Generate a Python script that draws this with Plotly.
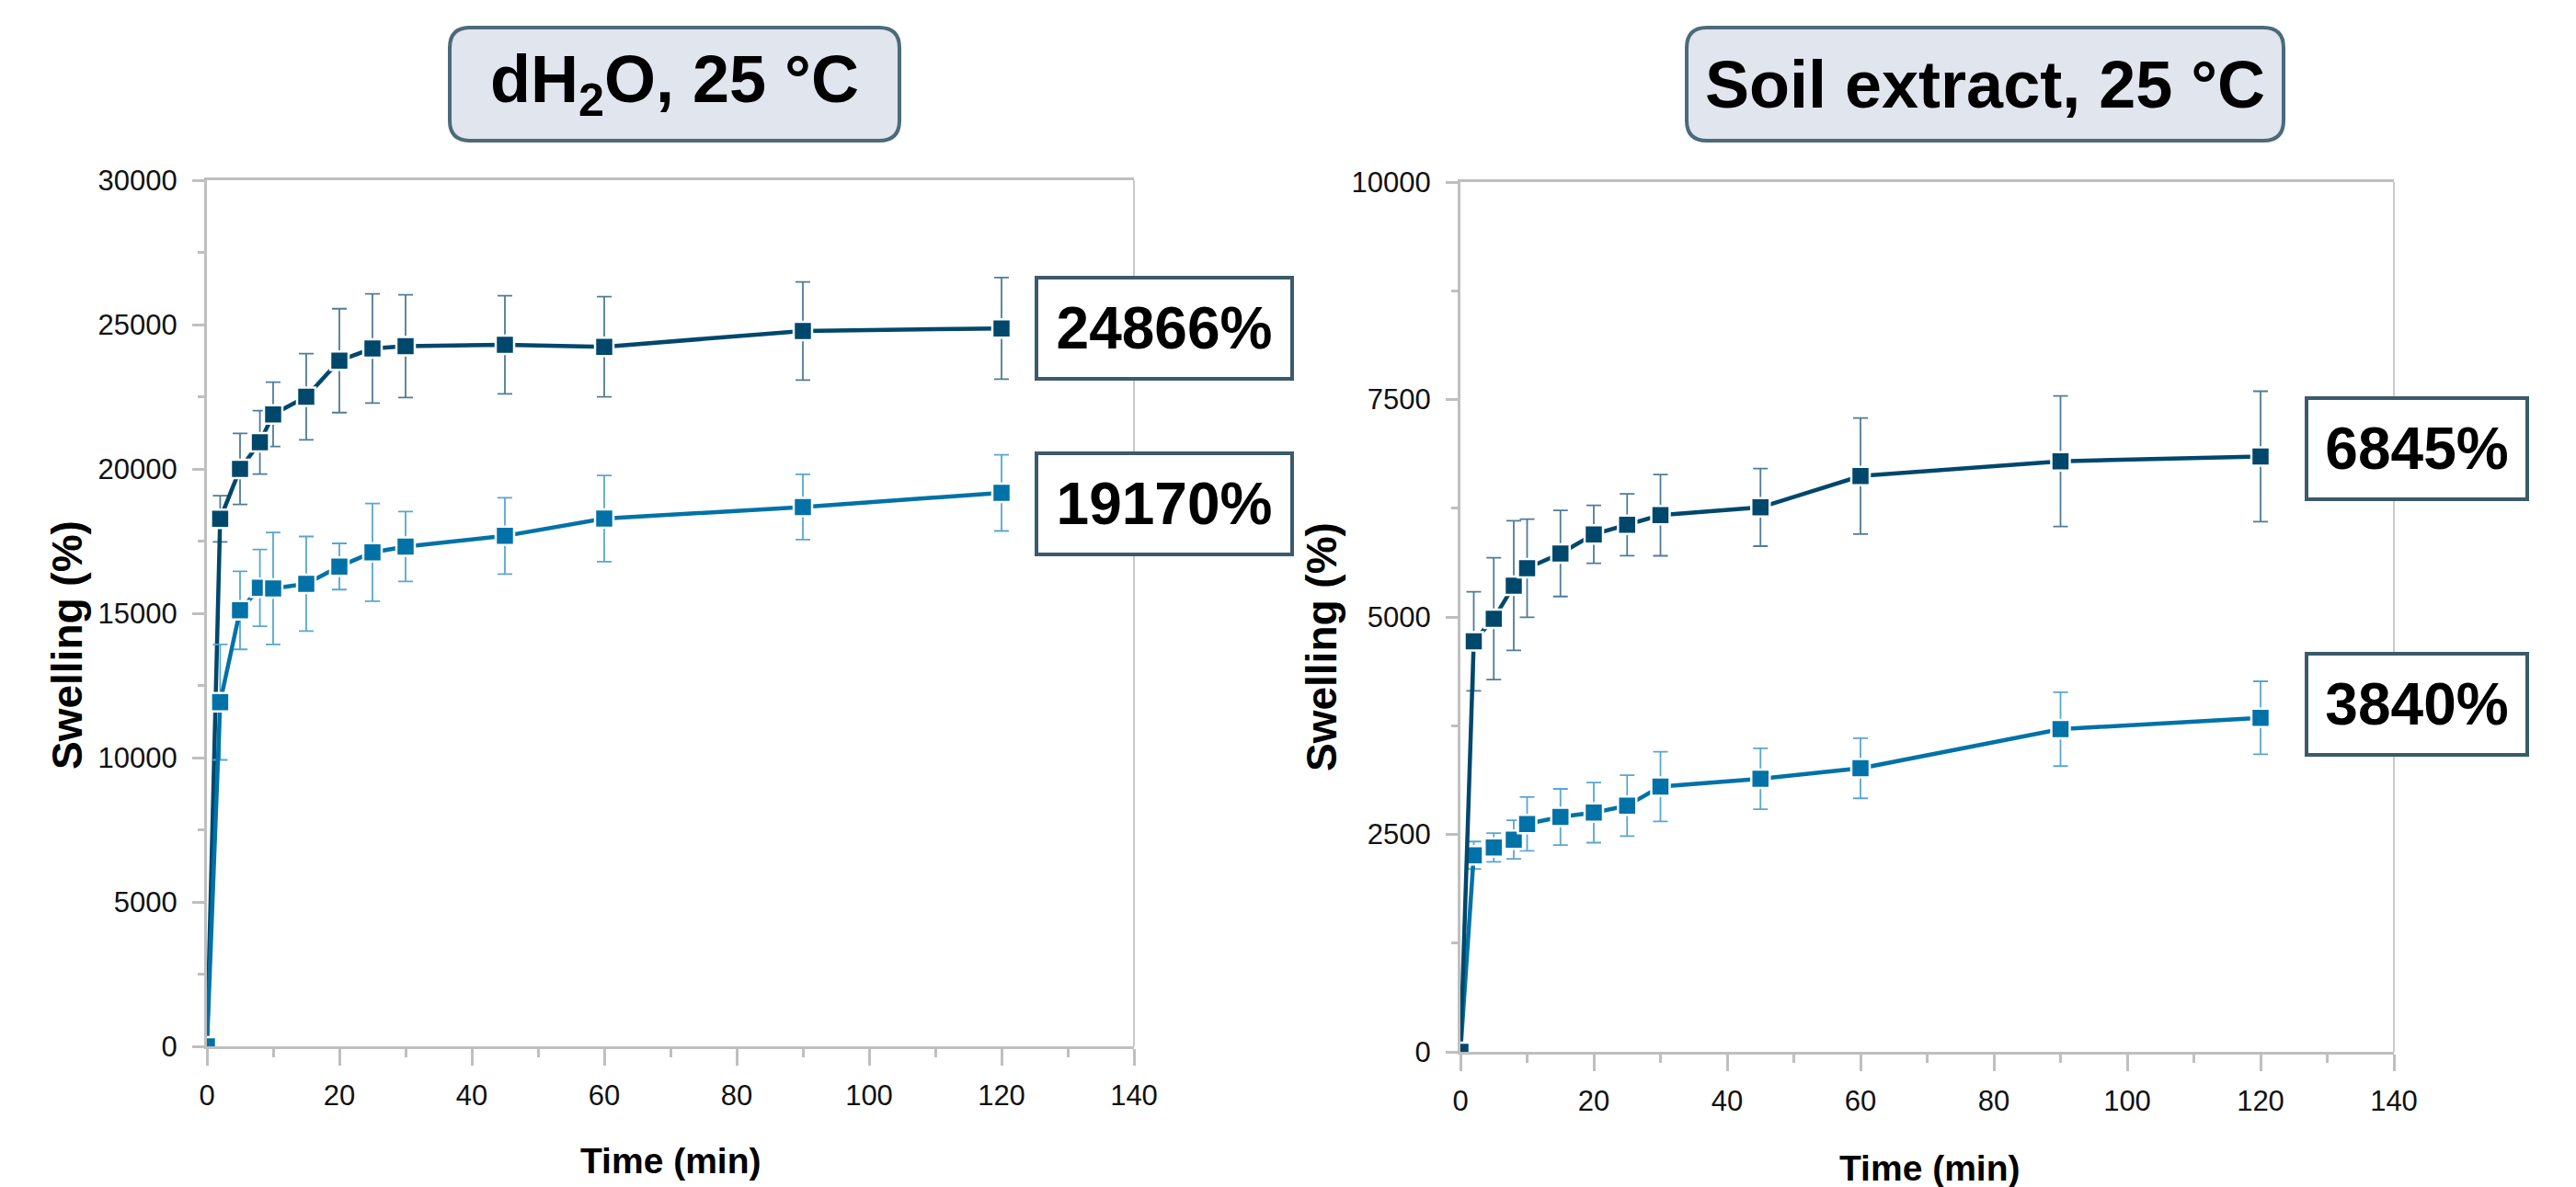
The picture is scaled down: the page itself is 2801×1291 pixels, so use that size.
import plotly.graph_objects as go

# ---------------- data ----------------
time_min = [0, 2, 5, 8, 10, 15, 20, 25, 30, 45, 60, 90, 120]

dh2o_a = [0, 18270, 20000, 20920, 21890, 22500, 23750, 24170, 24250, 24300, 24230, 24780, 24866]
dh2o_a_sd = [None, 800, 1230, 1100, 1115, 1490, 1800, 1890, 1780, 1700, 1735, 1700, 1760]
dh2o_b = [0, 11920, 15100, 15880, 15860, 16020, 16620, 17110, 17310, 17680, 18280, 18680, 19170]
dh2o_b_sd = [None, 2000, 1350, 1330, 1940, 1640, 800, 1690, 1210, 1320, 1490, 1130, 1320]

soil_a = [0, 4720, 4980, 5360, 5560, 5730, 5950, 6060, 6170, 6260, 6620, 6790, 6845]
soil_a_sd = [None, 570, 700, 745, 565, 495, 333, 356, 467, 446, 667, 750, 750]
soil_b = [0, 2260, 2350, 2440, 2620, 2700, 2750, 2830, 3050, 3140, 3260, 3710, 3840]
soil_b_sd = [None, 158, 165, 222, 310, 323, 345, 350, 400, 350, 345, 425, 420]

panel_titles = ["dH<sub>2</sub>O, 25 °C", "Soil extract, 25 °C"]
x_title = "Time (min)"
y_title = "Swelling (%)"
x_range = [0, 140]
y_ranges = [[0, 30000], [0, 10000]]
y_dticks = [5000, 2500]

# ---------------- styling ----------------
W, H = 2801, 1291
DARK = "#00476C"
LIGHT = "#0072A7"
DARK_ERR = "#4F7C98"
LIGHT_ERR = "#5AA6D2"
AXIS_GREY = "#BFBFBF"
FONT = "Liberation Sans, Arial, sans-serif"


def px_x(p):
    return p / W


def px_y(p):
    return 1 - p / H


fig = go.Figure()


def add_series(y, sd, color, errcolor, xa, ya):
    fig.add_trace(go.Scatter(
        x=time_min, y=y, mode="lines+markers",
        line=dict(color=color, width=4.5),
        marker=dict(symbol="square", size=20, color=color,
                    line=dict(color="white", width=2.5)),
        error_y=dict(type="data", array=sd, visible=True, color=errcolor,
                     thickness=1.8, width=8),
        xaxis=xa, yaxis=ya, showlegend=False, hoverinfo="x+y"))


# left panel: light series drawn on top
add_series(dh2o_a, dh2o_a_sd, DARK, DARK_ERR, "x", "y")
add_series(dh2o_b, dh2o_b_sd, LIGHT, LIGHT_ERR, "x", "y")
# right panel: dark series drawn on top
add_series(soil_b, soil_b_sd, LIGHT, LIGHT_ERR, "x2", "y2")
add_series(soil_a, soil_a_sd, DARK, DARK_ERR, "x2", "y2")

tickfont = dict(family=FONT, size=31, color="#111111")


def xaxis(domain, anchor):
    return dict(domain=domain, anchor=anchor, range=x_range, dtick=20, tick0=0,
                showline=True, linecolor=AXIS_GREY, linewidth=3, mirror=True,
                ticks="outside", ticklen=18, tickwidth=3, tickcolor=AXIS_GREY,
                minor=dict(dtick=10, ticks="outside", ticklen=9, tickwidth=3,
                           tickcolor=AXIS_GREY, showgrid=False),
                showgrid=False, zeroline=False, tickfont=tickfont,
                ticklabelstandoff=6, automargin=False)


def yaxis(domain, anchor, rng, dt):
    return dict(domain=domain, anchor=anchor, range=rng, dtick=dt, tick0=0,
                tickformat="d",
                showline=True, linecolor=AXIS_GREY, linewidth=3, mirror=False,
                ticks="outside", ticklen=13, tickwidth=3, tickcolor=AXIS_GREY,
                minor=dict(dtick=dt / 2, ticks="outside", ticklen=7, tickwidth=3,
                           tickcolor=AXIS_GREY, showgrid=False),
                showgrid=False, zeroline=False, tickfont=tickfont,
                ticklabelstandoff=10, automargin=False)


L_X = [px_x(225), px_x(1233)]
L_Y = [px_y(1138), px_y(196)]
R_X = [px_x(1588), px_x(2603)]
R_Y = [px_y(1144), px_y(198)]

fig.update_layout(
    width=W, height=H, margin=dict(l=0, r=0, t=0, b=0, pad=0),
    paper_bgcolor="white", plot_bgcolor="white",
    xaxis=xaxis(L_X, "y"), yaxis=yaxis(L_Y, "x", y_ranges[0], y_dticks[0]),
    xaxis2=xaxis(R_X, "y2"), yaxis2=yaxis(R_Y, "x2", y_ranges[1], y_dticks[1]),
)

shapes = []
# thin right-hand frame line of each plot
for xr, yr in (("x domain", "y domain"), ("x2 domain", "y2 domain")):
    shapes.append(dict(type="line", xref=xr, yref=yr, x0=1, x1=1, y0=0, y1=1,
                       line=dict(color="#C9C9C9", width=2), layer="below"))


def rounded_box(x0p, x1p, y0p, y1p, r=22):
    x0, x1 = px_x(x0p), px_x(x1p)
    yt, yb = px_y(y0p), px_y(y1p)
    rx, ry = r / W, r / H
    return (f"M {x0+rx},{yt} L {x1-rx},{yt} Q {x1},{yt} {x1},{yt-ry} "
            f"L {x1},{yb+ry} Q {x1},{yb} {x1-rx},{yb} L {x0+rx},{yb} "
            f"Q {x0},{yb} {x0},{yb+ry} L {x0},{yt-ry} Q {x0},{yt} {x0+rx},{yt} Z")


title_boxes = [(489, 978, 30, 153), (1834, 2483, 30, 153)]
for (a, b, c, d) in title_boxes:
    shapes.append(dict(type="path", xref="paper", yref="paper",
                       path=rounded_box(a, b, c, d),
                       fillcolor="#E0E5EE", line=dict(color="#4C6A7A", width=4)))
fig.update_layout(shapes=shapes)

ann = []
for (a, b, c, d), t in zip(title_boxes, panel_titles):
    ann.append(dict(text=t, xref="paper", yref="paper", x=px_x((a + b) / 2),
                    y=px_y((c + d) / 2), xanchor="center", yanchor="middle",
                    showarrow=False,
                    font=dict(family=FONT, size=72, color="black", weight="bold")))

# axis titles
for cx, cy in ((729, 1262), (2098, 1270)):
    ann.append(dict(text=x_title, xref="paper", yref="paper", x=px_x(cx), y=px_y(cy),
                    xanchor="center", yanchor="middle", showarrow=False,
                    font=dict(family=FONT, size=39, color="black", weight="bold")))
for cx, cy in ((73, 702), (1437, 704)):
    ann.append(dict(text=y_title, xref="paper", yref="paper", x=px_x(cx), y=px_y(cy),
                    xanchor="center", yanchor="middle", showarrow=False, textangle=-90,
                    font=dict(family=FONT, size=46, color="black", weight="bold")))

# final-value boxes
final_boxes = [
    ("y", dh2o_a[-1], 1266, 266, 0),
    ("y", dh2o_b[-1], 1266, 266, -12),
    ("y2", soil_a[-1], 2628, 228, 8),
    ("y2", soil_b[-1], 2628, 228, 15),
]
for yref, val, cx, w, ys in final_boxes:
    ann.append(dict(text=f"{val}%", xref="paper", yref=yref, x=px_x(cx), y=val,
                    xanchor="center", yanchor="middle", yshift=ys, showarrow=False,
                    width=w, height=98, borderpad=4, borderwidth=4,
                    bordercolor="#3B5A6B", bgcolor="white",
                    font=dict(family=FONT, size=64, color="black", weight="bold")))

fig.update_layout(annotations=ann)

fig.write_html(
    "out.html",
    config={"displayModeBar": False},
    post_script="document.body.style.margin='0';document.body.style.overflow='hidden';",
)
